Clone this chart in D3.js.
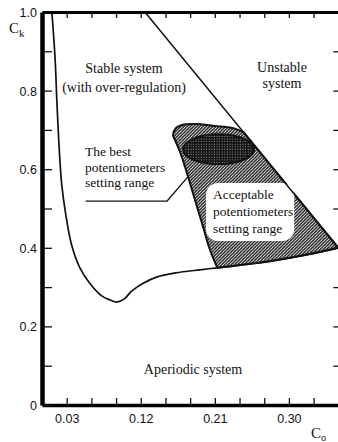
<!DOCTYPE html>
<html>
<head>
<meta charset="utf-8">
<script src="https://cdn.jsdelivr.net/npm/d3@7"></script>
<style>
  html, body { margin: 0; padding: 0; background: #fff; }
  svg { display: block; }
  .tick text { font-family: "Liberation Sans", Arial, sans-serif; font-size: 12.5px; fill: #111; }
  .lbl { font-family: "Liberation Serif", "Times New Roman", serif; font-size: 14px; fill: #111; }
</style>
</head>
<body>
<svg id="chart" width="338" height="442"></svg>
<script>
// C_o on the horizontal axis, C_k on the vertical axis
const xTicks = [0.03, 0.06, 0.09, 0.12, 0.15, 0.18, 0.21, 0.24, 0.27, 0.30, 0.33];
const xLabels = [0.03, 0.12, 0.21, 0.30];
const yTicks = [0, 0.1, 0.2, 0.3, 0.4, 0.5, 0.6, 0.7, 0.8, 0.9, 1.0];
const yLabels = [0, 0.2, 0.4, 0.6, 0.8, 1.0];
const rightTicks = [0.1, 0.2, 0.3, 0.4, 0.5, 0.6, 0.7, 0.8, 0.9];

// boundary of the oscillatory region (periodic / aperiodic border)
const aperiodicCo = [0.012, 0.016, 0.018, 0.021, 0.024, 0.029, 0.036, 0.046, 0.058, 0.073, 0.083, 0.091, 0.100, 0.109, 0.123, 0.140, 0.162, 0.192, 0.213, 0.241, 0.277, 0.313, 0.360];
const aperiodicCk = [1.000, 0.878, 0.776, 0.649, 0.560, 0.483, 0.407, 0.349, 0.310, 0.277, 0.267, 0.262, 0.270, 0.290, 0.310, 0.326, 0.336, 0.344, 0.349, 0.356, 0.366, 0.379, 0.400];

// stability boundary (straight line)
const stabilityCo = [0.125, 0.360];
const stabilityCk = [1.000, 0.400];

// acceptable setting range: left and top edge, from the bottom-left corner to the stability boundary
const acceptEdgeCo = [0.213, 0.2041, 0.1968, 0.1896, 0.1823, 0.1750, 0.1677, 0.1616, 0.1592, 0.1628, 0.1701, 0.1859, 0.2102, 0.2309, 0.2446];
const acceptEdgeCk = [0.349, 0.3944, 0.4453, 0.4962, 0.5471, 0.5980, 0.6438, 0.6743, 0.6870, 0.7048, 0.7125, 0.7150, 0.7099, 0.7048, 0.6947];
// its lower edge follows the aperiodic border from this C_o on
const acceptFromCo = 0.213;

// best setting range (ellipse: centre and half-axes)
const bestCentre = [0.2145, 0.651];
const bestRadii = [0.0431, 0.038];

// leader from the "best range" caption
const leaderCo = [0.053, 0.152, 0.177];
const leaderCk = [0.519, 0.519, 0.580];

const svg = d3.select("#chart");
const x = d3.scaleLinear().domain([0, 0.36]).range([42, 338.3]);
const y = d3.scaleLinear().domain([0, 1]).range([405, 12]);

const defs = svg.append("defs");
const hatch = defs.append("pattern").attr("id", "hatch")
  .attr("patternUnits", "userSpaceOnUse").attr("width", 3.2).attr("height", 3.2);
hatch.append("path").attr("d", "M-1,1 l2,-2 M0,3.2 l3.2,-3.2 M2.2,4.2 l2,-2")
  .attr("stroke", "#111").attr("stroke-width", 1.3);
const dots = defs.append("pattern").attr("id", "dots")
  .attr("patternUnits", "userSpaceOnUse").attr("width", 2.6).attr("height", 2.6);
dots.append("rect").attr("width", 2.6).attr("height", 2.6).attr("fill", "#111");
dots.append("rect").attr("x", 0.7).attr("y", 0.7).attr("width", 1).attr("height", 1).attr("fill", "#aaa");

const pts = (xs, ys) => xs.map((v, i) => [v, ys[i]]);
const line = d3.line().x(d => x(d[0])).y(d => y(d[1]));
const smooth = d3.line().x(d => x(d[0])).y(d => y(d[1])).curve(d3.curveCatmullRom.alpha(0.5));

// acceptable range outline: smooth left/top edge, straight run down the stability
// boundary, then back along the aperiodic border
const aper = pts(aperiodicCo, aperiodicCk);
const edge = pts(acceptEdgeCo, acceptEdgeCk);
const lower = aper.filter(d => d[0] >= acceptFromCo - 1e-9).reverse();
const last = edge[edge.length - 1];
const outline = smooth(edge) + "L" + x(lower[0][0]) + "," + y(lower[0][1]) +
  smooth(lower).replace(/^M/, "L") + "Z";
svg.append("path").attr("d", outline)
  .attr("fill", "url(#hatch)").attr("stroke", "#111").attr("stroke-width", 2)
  .attr("stroke-linejoin", "round");

// best range, dense dots
svg.append("ellipse")
  .attr("cx", x(bestCentre[0])).attr("cy", y(bestCentre[1]))
  .attr("rx", x(bestCentre[0] + bestRadii[0]) - x(bestCentre[0]))
  .attr("ry", y(bestCentre[1]) - y(bestCentre[1] + bestRadii[1]))
  .attr("fill", "url(#dots)").attr("stroke", "#111").attr("stroke-width", 2);

// caption inside the acceptable range on a white patch
const acc = svg.append("g");
const accLines = ["Acceptable", "potentiometers", "setting range"];
const accText = acc.append("g");
accLines.forEach((t, i) => {
  accText.append("text").attr("class", "lbl").style("font-size", "13.5px")
    .attr("x", 213).attr("y", 199 + i * 17).text(t);
});
const bb = accText.node().getBBox();
acc.insert("rect", ":first-child")
  .attr("x", bb.x - 7).attr("y", bb.y - 4).attr("width", bb.width + 8).attr("height", bb.height + 9)
  .attr("rx", 12).attr("fill", "#fff");

// curves
svg.append("path").datum(aper).attr("d", smooth)
  .attr("fill", "none").attr("stroke", "#111").attr("stroke-width", 1.7);
svg.append("path").datum(pts(stabilityCo, stabilityCk)).attr("d", line)
  .attr("fill", "none").attr("stroke", "#111").attr("stroke-width", 1.5);
svg.append("path").datum(pts(leaderCo, leaderCk)).attr("d", line)
  .attr("fill", "none").attr("stroke", "#111").attr("stroke-width", 1.3);

// axes
const fmtY = d => (d === 0 ? "0" : d3.format(".1f")(d));
const fmtX = d => (xLabels.some(v => Math.abs(v - d) < 1e-9) ? d3.format(".2f")(d) : "");

const gx = svg.append("g").attr("transform", `translate(0,${y(0)})`)
  .call(d3.axisBottom(x).tickValues(xTicks).tickSize(-7).tickSizeOuter(0).tickPadding(9).tickFormat(fmtX));
const gy = svg.append("g").attr("transform", `translate(${x(0)},0)`)
  .call(d3.axisLeft(y).tickValues(yTicks).tickSize(-10).tickSizeOuter(0).tickPadding(5)
    .tickFormat(d => (yLabels.some(v => Math.abs(v - d) < 1e-9) ? fmtY(d) : "")));
const gt = svg.append("g").attr("transform", `translate(0,${y(1)})`)
  .call(d3.axisTop(x).tickValues(xTicks).tickSize(-6).tickSizeOuter(0).tickFormat(""));
const gr = svg.append("g").attr("transform", `translate(${x(0.36)},0)`)
  .call(d3.axisRight(y).tickValues(rightTicks).tickSize(-5).tickSizeOuter(0).tickFormat(""));
gr.select(".domain").remove();

[gx, gy, gt, gr].forEach(g => g.selectAll(".tick line").attr("stroke", "#111").attr("stroke-width", 1.3));
gx.select(".domain").attr("stroke", "#000").attr("stroke-width", 3.5);
gt.select(".domain").attr("stroke", "#000").attr("stroke-width", 3);
gy.select(".domain").attr("stroke", "#000").attr("stroke-width", 4.5);
gy.selectAll(".tick text").attr("dy", "0.36em");

// axis titles
const ck = svg.append("text").attr("class", "lbl").attr("x", 9).attr("y", 33).style("font-size", "15px");
ck.append("tspan").text("C");
ck.append("tspan").attr("dy", 4).style("font-size", "11px").text("k");
const co = svg.append("text").attr("class", "lbl").attr("x", 311).attr("y", 438).style("font-size", "15px");
co.append("tspan").text("C");
co.append("tspan").attr("dy", 3).style("font-size", "10px").text("o");

// region captions
const cap = (lines, cx, cy, step, anchor, size) => lines.forEach((t, i) =>
  svg.append("text").attr("class", "lbl").attr("x", cx).attr("y", cy + i * step)
    .attr("text-anchor", anchor).style("font-size", size || null).text(t));
cap(["Stable system", "(with over-regulation)"], 124, 73, 19, "middle");
cap(["Unstable", "system"], 282, 72, 16, "middle");
cap(["The best", "potentiometers", "setting range"], 85, 156, 15.5, "start", "13.5px");
cap(["Aperiodic system"], 193, 374, 0, "middle");
</script>
</body>
</html>
